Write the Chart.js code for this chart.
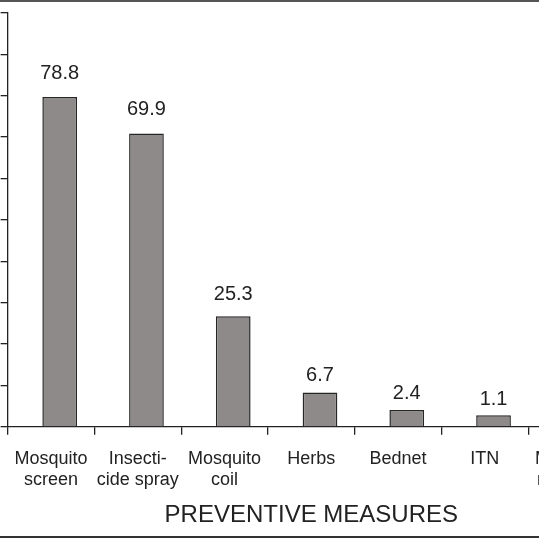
<!DOCTYPE html>
<html>
<head>
<meta charset="utf-8">
<script src="https://cdn.jsdelivr.net/npm/chart.js@4"></script>
<style>
  html, body { margin: 0; padding: 0; width: 539px; height: 539px; overflow: hidden; background: #fff; }
  #frameTop { position: absolute; left: 0; top: 0; width: 539px; height: 0; border-top: 2px solid #555; }
  #frameBottom { position: absolute; left: 0; top: 536px; width: 539px; height: 0; border-top: 2px solid #333; }
  #wrap { position: absolute; left: 0; top: 0; width: 630px; height: 539px; }
</style>
</head>
<body>
<div id="wrap"><canvas id="chart"></canvas></div>
<div id="frameTop"></div>
<div id="frameBottom"></div>
<script>
// categories (multi-line labels as arrays), cropped at the right like the figure
const categories = [
  ['Mosquito', 'screen'],
  ['Insecti-', 'cide spray'],
  ['Mosquito', 'coil'],
  'Herbs',
  'Bednet',
  'ITN',
  ['Mosquito', 'repellent']
];
// percentages printed above the bars (last one is off the picture)
const percents = [78.8, 69.9, 25.3, 6.7, 2.4, 1.1, 0.5];
// empty series only used to push the real bars right of the slot centre
const spacer = categories.map(() => null);

const axisMin = -1.7;   // the figure's bars start a little below zero
const axisMax = 99.3;

Chart.defaults.font.family = '"Liberation Sans", Arial, sans-serif';
Chart.defaults.color = '#222';

const valueLabels = {
  id: 'valueLabels',
  afterDatasetsDraw(chart) {
    const ctx = chart.ctx;
    const meta = chart.getDatasetMeta(1);
    ctx.save();
    ctx.font = '20px "Liberation Sans", Arial, sans-serif';
    ctx.fillStyle = '#222';
    ctx.textAlign = 'center';
    ctx.textBaseline = 'alphabetic';
    meta.data.forEach((bar, i) => {
      const h = bar.base - bar.y;
      const gap = 10 + 8 * Math.min(1, h / 150);
      ctx.fillText(percents[i].toFixed(1), bar.x, bar.y - gap);
    });
    ctx.restore();
  }
};

new Chart(document.getElementById('chart'), {
  type: 'bar',
  data: {
    labels: categories,
    datasets: [
      { data: spacer },
      {
        data: percents,
        base: axisMin,
        backgroundColor: '#8f8a8a',
        borderColor: '#262626',
        borderWidth: 1.5,
        borderSkipped: 'bottom'
      }
    ]
  },
  options: {
    responsive: true,
    maintainAspectRatio: false,
    animation: false,
    categoryPercentage: 0.4,
    barPercentage: 2.0,
    layout: { padding: { top: 13, left: 0, right: 15, bottom: 9 } },
    plugins: { legend: { display: false }, tooltip: { enabled: false } },
    scales: {
      x: {
        grid: { offset: true, drawOnChartArea: false, drawTicks: true, tickLength: 8, color: '#222', lineWidth: 1.3 },
        border: { color: '#222', width: 1.3 },
        ticks: { font: { size: 18, lineHeight: 1.15 }, color: '#222', padding: 14, maxRotation: 0, autoSkip: false },
        title: { display: true, text: 'PREVENTIVE MEASURES', font: { size: 24 }, color: '#222', padding: { top: -3, bottom: 0 } }
      },
      y: {
        min: axisMin,
        max: axisMax,
        afterBuildTicks(scale) {
          const step = (axisMax - axisMin) / 10;
          scale.ticks = Array.from({ length: 11 }, (_, i) => ({ value: axisMin + i * step }));
        },
        grid: { drawOnChartArea: false, drawTicks: true, tickLength: 7, color: '#222', lineWidth: 1.3 },
        border: { color: '#222', width: 1.3 },
        ticks: { display: false }
      }
    }
  },
  plugins: [valueLabels]
});
</script>
</body>
</html>
